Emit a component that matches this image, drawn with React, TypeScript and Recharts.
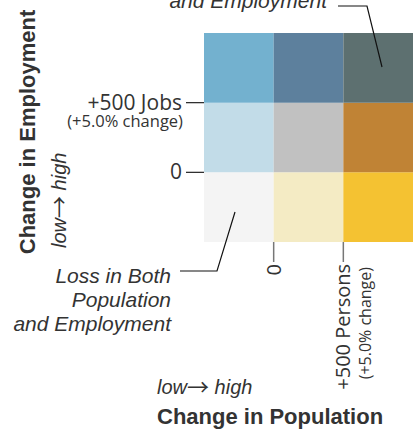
import { ScatterChart, XAxis, YAxis, ReferenceArea } from 'recharts';

// bin edges along each axis (low / mid / high)
const populationEdges = [0, 1, 2, 3];
const employmentEdges = [0, 1, 2, 3];

// rows = employment (low -> high), cols = population (low -> high)
const cellColors = [
  ['#f4f4f4', '#f4ebc4', '#f4c232'],
  ['#c2dce8', '#c1c1c1', '#c08335'],
  ['#73b1cf', '#5d809d', '#5d7070'],
];

const xTicks = [1, 2];
const xTickLabels = ['0', '+500 Persons'];
const xTickNotes = ['', '(+5.0% change)'];

const yTicks = [1, 2];
const yTickLabels = ['0', '+500 Jobs'];
const yTickNotes = ['', '(+5.0% change)'];

const TEXT = '#333';
const TICK_FONT = '"Open Sans", sans-serif';
const LABEL_FONT = '"Liberation Sans", Arial, sans-serif';
const ARROW_FONT = '"Noto Sans CJK SC", "DejaVu Sans", sans-serif';

const XTick = ({ x, y, payload }: any) => {
  const i = xTicks.indexOf(payload.value);
  return (
    <g>
      <line x1={x} x2={x} y1={y} y2={y + 20} stroke="#777" strokeWidth={1.5} />
      <text
        transform={`translate(${x + 7},${y + 22}) rotate(-90)`}
        textAnchor="end"
        fontSize={20}
        fontFamily={TICK_FONT}
        fill={TEXT}
      >
        {xTickLabels[i]}
      </text>
      {xTickNotes[i] && (
        <text
          transform={`translate(${x + 28},${y + 25}) rotate(-90)`}
          textAnchor="end"
          fontSize={16}
          fontFamily={TICK_FONT}
          fill={TEXT}
        >
          {xTickNotes[i]}
        </text>
      )}
    </g>
  );
};

const YTick = ({ x, y, payload }: any) => {
  const i = yTicks.indexOf(payload.value);
  return (
    <g>
      <line x1={x - 18} x2={x} y1={y} y2={y} stroke="#222" strokeWidth={1.2} />
      <text x={x - 22} y={y + 7} textAnchor="end" fontSize={21} fontFamily={TICK_FONT} fill={TEXT}>
        {yTickLabels[i]}
      </text>
      {yTickNotes[i] && (
        <text x={x - 21} y={y + 24} textAnchor="end" fontSize={16.5} fontFamily={TICK_FONT} fill={TEXT}>
          {yTickNotes[i]}
        </text>
      )}
    </g>
  );
};

const LowHigh = ({ transform }: { transform: string }) => (
  <text transform={transform} fontSize={20} fontStyle="italic" fontFamily={LABEL_FONT} fill={TEXT}>
    low
    <tspan fontStyle="normal" fontFamily={ARROW_FONT} fontSize={22} dy={1}>
      →
    </tspan>
    <tspan dy={-1}> high</tspan>
  </text>
);

export default function App() {
  return (
    <div style={{ position: 'absolute', left: 0, top: 0, width: 417, height: 432 }}>
      <ScatterChart width={417} height={432} margin={{ top: 33, right: 4, bottom: 0, left: 0 }}>
        <XAxis
          type="number"
          dataKey="x"
          domain={[0, 3]}
          ticks={xTicks}
          axisLine={false}
          tickLine={false}
          tickSize={0}
          tickMargin={0}
          height={190}
          tick={<XTick />}
          allowDataOverflow
        />
        <YAxis
          type="number"
          dataKey="y"
          domain={[0, 3]}
          ticks={yTicks}
          axisLine={false}
          tickLine={false}
          tickSize={0}
          tickMargin={0}
          width={204}
          tick={<YTick />}
          allowDataOverflow
        />
        {cellColors.map((row, r) =>
          row.map((color, c) => (
            <ReferenceArea
              key={`${r}-${c}`}
              x1={populationEdges[c]}
              x2={populationEdges[c + 1]}
              y1={employmentEdges[r]}
              y2={employmentEdges[r + 1]}
              fill={color}
              fillOpacity={1}
              stroke="none"
              ifOverflow="visible"
            />
          ))
        )}
      </ScatterChart>
      <svg
        width={417}
        height={432}
        style={{ position: 'absolute', left: 0, top: 0, pointerEvents: 'none' }}
      >
        {/* axis titles */}
        <text
          transform="translate(35,132) rotate(-90)"
          textAnchor="middle"
          fontSize={22}
          fontWeight="bold"
          fontFamily={LABEL_FONT}
          fill={TEXT}
        >
          Change in Employment
        </text>
        <LowHigh transform="translate(66,248) rotate(-90)" />
        <LowHigh transform="translate(157,394)" />
        <text x={157} y={424} fontSize={22} fontWeight="bold" fontFamily={LABEL_FONT} fill={TEXT}>
          Change in Population
        </text>

        {/* gain annotation (top, cut off by the frame) */}
        <text x={327} y={8} textAnchor="end" fontSize={21} fontStyle="italic" fontFamily={LABEL_FONT} fill={TEXT}>
          and Employment
        </text>
        <polyline points="338,6 367,6 382,67" fill="none" stroke="#111" strokeWidth={1.2} />

        {/* loss annotation */}
        <text textAnchor="end" fontSize={21} fontStyle="italic" fontFamily={LABEL_FONT} fill={TEXT}>
          <tspan x={171} y={283}>Loss in Both</tspan>
          <tspan x={171} y={307}>Population</tspan>
          <tspan x={171} y={331}>and Employment</tspan>
        </text>
        <polyline points="180,271 217,271 235,212" fill="none" stroke="#111" strokeWidth={1.2} />
      </svg>
    </div>
  );
}
